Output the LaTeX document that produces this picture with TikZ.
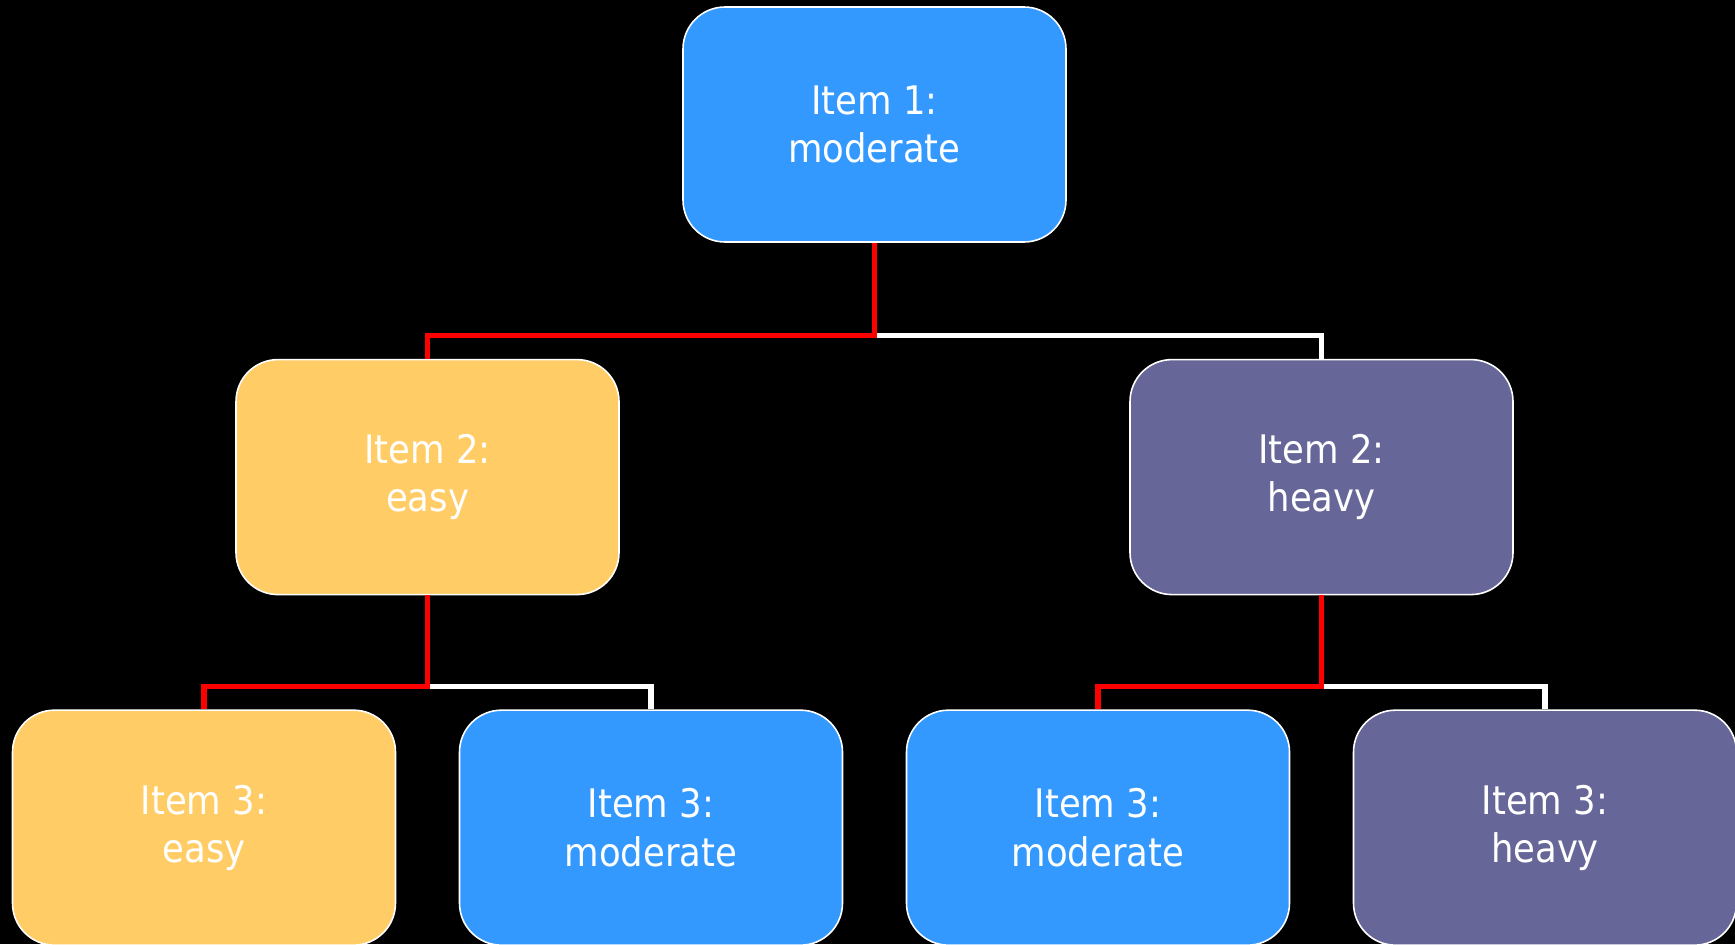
\documentclass[tikz,border=0pt]{standalone}
\usepackage{fontspec}
\IfFontExistsTF{DejaVu Sans Condensed}{\setmainfont{DejaVu Sans Condensed}}{\setmainfont{DejaVu Sans}}
\usepackage{xcolor}
\usepackage{tikz}
\usetikzlibrary{positioning}

\definecolor{itemblue}{HTML}{3399FF}
\definecolor{itemyellow}{HTML}{FFCC66}
\definecolor{itempurple}{HTML}{666699}

\tikzset{
  item/.style={draw=white, line width=0.45pt, rounded corners=0.42cm, minimum width=3.83cm, minimum height=2.35cm,
    text=white, align=center, font=\fontsize{11.2}{13.7}\selectfont},
  branch/.style={line width=1.5pt}
}

\begin{document}
\begin{tikzpicture}
        \fill[black] (0,0) rectangle (17.35,-9.44);
        \useasboundingbox (0,0) rectangle (17.35,-9.44);

        % Level 1
        \node[item, fill=itemblue] (top) at (8.745,-1.245) {Item 1:\\moderate};

        % Level 2
        \node[item, fill=itemyellow, below=1.16cm of top, xshift=-4.47cm] (easy2) {Item 2:\\easy};
        \node[item, fill=itempurple, below=1.16cm of top, xshift=4.47cm] (heavy2) {Item 2:\\heavy};

        % Level 3
        \node[item, fill=itemyellow, below=1.14cm of easy2, xshift=-2.235cm] (easy3) {Item 3:\\easy};
        \node[item, fill=itemblue, below=1.14cm of easy2, xshift=2.235cm] (modeasy3) {Item 3:\\moderate};
        \node[item, fill=itemblue, below=1.14cm of heavy2, xshift=-2.235cm] (modheavy3) {Item 3:\\moderate};
        \node[item, fill=itempurple, below=1.14cm of heavy2, xshift=2.235cm] (heavy3) {Item 3:\\heavy};

        % Junctions
        \coordinate[below=0.93cm of top] (j1);
        \coordinate[below=0.91cm of easy2] (j2);
        \coordinate[below=0.91cm of heavy2] (j3);

        % Branches
        \draw[branch, white] (j1) -| (heavy2.north);
        \draw[branch, red] (top.south) -- (j1) -| (easy2.north);
        \draw[branch, white] (j2) -| (modeasy3.north);
        \draw[branch, red] (easy2.south) -- (j2) -| (easy3.north);
        \draw[branch, white] (j3) -| (heavy3.north);
        \draw[branch, red] (heavy2.south) -- (j3) -| (modheavy3.north);
    \end{tikzpicture}
\end{document}
